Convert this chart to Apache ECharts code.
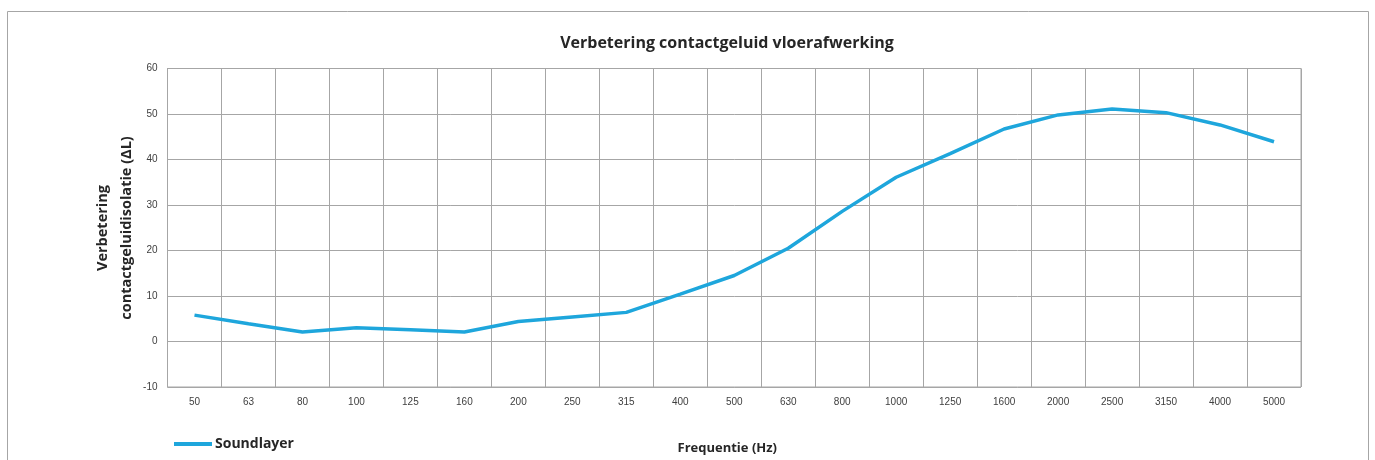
<!DOCTYPE html>
<html><head><meta charset="utf-8">
<script src="https://cdn.jsdelivr.net/npm/echarts@6/dist/echarts.min.js"></script>
<style>html,body{margin:0;padding:0;background:#fff}#c{width:1375px;height:460px}</style>
</head><body><div id="c"></div>
<script>
const categories = ['50','63','80','100','125','160','200','250','315','400','500','630','800','1000','1250','1600','2000','2500','3150','4000','5000'];
const soundlayer = [5.8,3.9,2.1,3.0,2.6,2.1,4.4,5.4,6.4,10.4,14.5,20.5,28.6,36.1,41.3,46.7,49.8,51.1,50.3,47.6,43.9];
const yTicks = {min:-10, max:60, interval:10};
const yNameLines = ['Verbetering','contactgeluidisolatie (ΔL)'];
const FONT = '"Liberation Sans Narrow","Liberation Sans",sans-serif';
const NAMEFONT = 'bold 14.5px "Open Sans",sans-serif';
const chart = echarts.init(document.getElementById('c'));
chart.setOption({
  animation:false,
  graphic:[
    {type:'rect',shape:{x:7.5,y:11.5,width:1361,height:460},style:{fill:'none',stroke:'#a6a6a6',lineWidth:1},silent:true},
    {type:'text',x:103,y:228,rotation:Math.PI/2,silent:true,style:{text:yNameLines[0],font:NAMEFONT,fill:'#262626',align:'center',verticalAlign:'middle'}},
    {type:'text',x:127,y:228,rotation:Math.PI/2,silent:true,style:{text:yNameLines[1],font:NAMEFONT,fill:'#262626',align:'center',verticalAlign:'middle'}}
  ],
  title:{text:'Verbetering contactgeluid vloerafwerking',left:722,top:30,textAlign:'center',
    textStyle:{fontSize:16,fontWeight:'bold',color:'#262626',fontFamily:'"Open Sans",sans-serif'}},
  legend:{left:169,top:432,itemWidth:38,itemHeight:4,itemGap:4,icon:'rect',
    textStyle:{fontSize:14,fontWeight:'bold',color:'#262626',fontFamily:'"Open Sans",sans-serif',padding:[0,0,0,-2]},
    data:['Soundlayer']},
  grid:{left:167.5,right:74,top:68.5,bottom:72.5,show:true,borderColor:'#a6a6a6',borderWidth:1,containLabel:false},
  xAxis:{type:'category',data:categories,boundaryGap:true,
    name:'Frequentie (Hz)',nameLocation:'middle',nameGap:55,
    nameTextStyle:{fontSize:13,fontWeight:'bold',color:'#262626',fontFamily:'"Open Sans",sans-serif',padding:[0,0,0,-14]},
    axisLine:{lineStyle:{color:'#a6a6a6'}},axisTick:{show:false},
    axisLabel:{fontSize:10,color:'#404040',margin:10,fontFamily:FONT,interval:0},
    splitLine:{show:true,lineStyle:{color:'#a6a6a6',width:1}}},
  yAxis:{type:'value',min:yTicks.min,max:yTicks.max,interval:yTicks.interval,
    axisLine:{show:true,lineStyle:{color:'#a6a6a6'}},axisTick:{show:false},
    axisLabel:{fontSize:10,color:'#404040',margin:10,fontFamily:FONT},
    splitLine:{show:true,lineStyle:{color:'#a6a6a6',width:1}}},
  series:[{name:'Soundlayer',type:'line',data:soundlayer,symbol:'none',smooth:false,
    lineStyle:{color:'#1ea6dc',width:3.5},itemStyle:{color:'#1ea6dc'}}]
});
</script></body></html>
